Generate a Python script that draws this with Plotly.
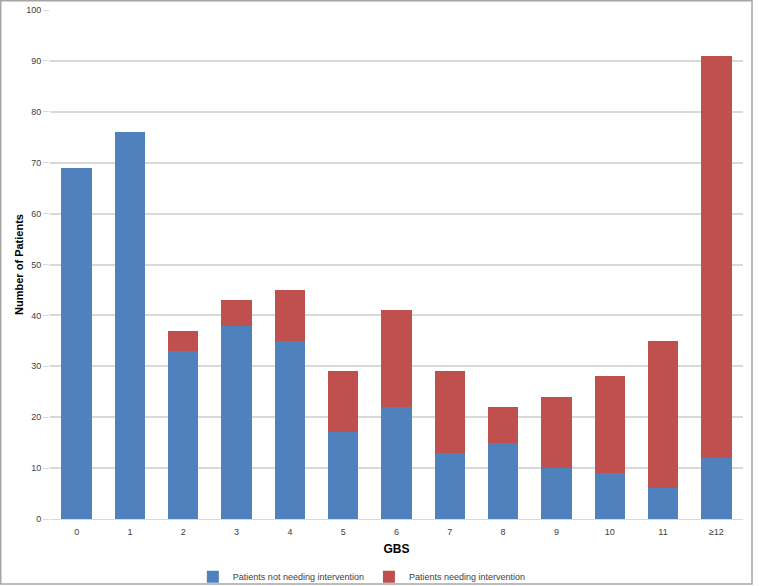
import plotly.graph_objects as go

categories = ["0", "1", "2", "3", "4", "5", "6", "7", "8", "9", "10", "11", "≥12"]
not_needing = [69, 76, 33, 38, 35, 17, 22, 13, 15, 10, 9, 6, 12]
needing = [0, 0, 4, 5, 10, 12, 19, 16, 7, 14, 19, 29, 79]
y_ticks = list(range(0, 101, 10))

fig = go.Figure()
fig.add_trace(go.Bar(x=categories, y=not_needing, name="Patients not needing intervention",
                     marker=dict(color="#4F81BD", line=dict(width=0))))
fig.add_trace(go.Bar(x=categories, y=needing, name="Patients needing intervention",
                     marker=dict(color="#C0504D", line=dict(width=0))))

fig.update_layout(
    width=768, height=586,
    barmode="stack", bargap=0.43,
    paper_bgcolor="white", plot_bgcolor="white",
    margin=dict(l=50, r=25, t=10, b=67, autoexpand=False),
    font=dict(family="Liberation Sans", size=9, color="#404040"),
    showlegend=True,
    legend=dict(orientation="h", x=0.45, xanchor="center", y=-0.085, yanchor="top",
                bgcolor="rgba(0,0,0,0)", itemwidth=30,
                font=dict(size=9, color="#404040"), traceorder="normal"),
    xaxis=dict(type="category", automargin=False, ticklabelstandoff=4,
               title=dict(text="<b>GBS</b>", font=dict(size=12, color="black"), standoff=8),
               showline=True, linecolor="#D9D9D9", ticks="", tickfont=dict(size=9)),
    yaxis=dict(range=[0, 100], tickvals=y_ticks, showgrid=True, gridcolor="#D9D9D9", gridwidth=1.5,
               automargin=False,
               title=dict(text="<b>Number of Patients</b>", font=dict(size=11, color="black"), standoff=0),
               ticks="outside", ticklen=6, tickcolor="#D9D9D9", zeroline=False, tickfont=dict(size=9)),
    shapes=[dict(type="rect", xref="paper", yref="paper", x0=-0.0711, x1=1.013, y0=-0.1277, y1=1.018,
                 line=dict(color="#A6A6A6", width=1.5))],
)

fig.write_html("out.html", config={"displayModeBar": False},
               post_script="document.body.style.margin='0';")
